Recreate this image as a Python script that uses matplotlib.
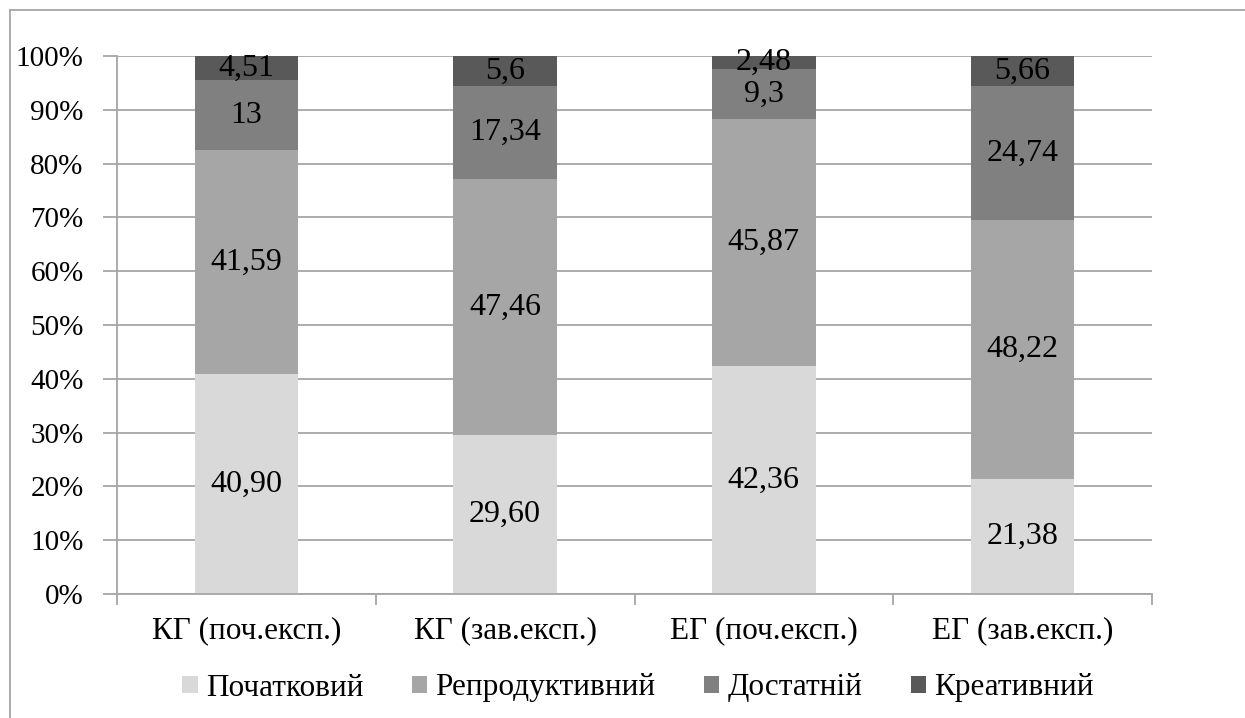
import numpy as np
import matplotlib.pyplot as plt
from matplotlib.lines import Line2D

plt.rcParams['font.family'] = 'Liberation Serif'

groups = ['КГ (поч.експ.)', 'КГ (зав.експ.)', 'ЕГ (поч.експ.)', 'ЕГ (зав.експ.)']
levels = ['Початковий', 'Репродуктивний', 'Достатній', 'Креативний']
pochatkovyi = [40.90, 29.60, 42.36, 21.38]
reproduktyvnyi = [41.59, 47.46, 45.87, 48.22]
dostatnii = [13, 17.34, 9.3, 24.74]
kreatyvnyi = [4.51, 5.6, 2.48, 5.66]
label_text = [
    ['40,90', '29,60', '42,36', '21,38'],
    ['41,59', '47,46', '45,87', '48,22'],
    ['13', '17,34', '9,3', '24,74'],
    ['4,51', '5,6', '2,48', '5,66'],
]
colors = ['#D9D9D9', '#A6A6A6', '#808080', '#595959']

series = [pochatkovyi, reproduktyvnyi, dostatnii, kreatyvnyi]

fig = plt.figure(figsize=(12.45, 7.18), dpi=100)
ax = fig.add_axes([117 / 1245, 1 - 594 / 718, (1152 - 117) / 1245, (594 - 56) / 718])

# chart border (only top and left visible in the picture)
bx, by = 10 / 1245, 1 - 10 / 718
fig.add_artist(Line2D([bx, 1.0], [by, by], transform=fig.transFigure, color='#A6A6A6', lw=1.3))
fig.add_artist(Line2D([bx, bx], [0, by], transform=fig.transFigure, color='#A6A6A6', lw=1.3))

x = np.arange(len(groups))
bottom = np.zeros(len(groups))
handles = []
for vals, col, lab, texts in zip(series, colors, levels, label_text):
    vals = np.array(vals)
    b = ax.bar(x, vals, 0.4, bottom=bottom, color=col, label=lab, zorder=2)
    handles.append(b)
    for xi, v, bt, t in zip(x, vals, bottom, texts):
        ax.text(xi, bt + v / 2, t, ha='center', va='center', fontsize=23, zorder=3)
    bottom += vals

ax.set_xlim(-0.5, 3.5)
ax.set_ylim(0, 100)
ax.set_yticks(np.arange(0, 101, 10))
ax.set_yticklabels([f'{v}%' for v in range(0, 101, 10)], fontsize=21)
ax.yaxis.grid(True, color='#A6A6A6', lw=1.3, zorder=0)
ax.set_xticks(x)
ax.set_xticklabels(groups, fontsize=22.5)
ax.set_xticks(np.arange(-0.5, 4, 1), minor=True)
ax.tick_params(axis='x', which='major', length=0, pad=16)
ax.tick_params(axis='x', which='minor', length=8, color='#A6A6A6', width=1.3)
ax.tick_params(axis='y', length=10, color='#A6A6A6', width=1.3, pad=14)
for s in ['top', 'right']:
    ax.spines[s].set_visible(False)
for s in ['left', 'bottom']:
    ax.spines[s].set_color('#A6A6A6')
    ax.spines[s].set_linewidth(1.3)

fig.legend(handles=handles, labels=levels, loc='center', bbox_to_anchor=(638 / 1245, 1 - 688 / 718),
           ncol=4, frameon=False, fontsize=22.5, handlelength=0.5, handleheight=0.5,
           handletextpad=0.25, columnspacing=1.55)

fig.savefig('out.png', dpi=100)
